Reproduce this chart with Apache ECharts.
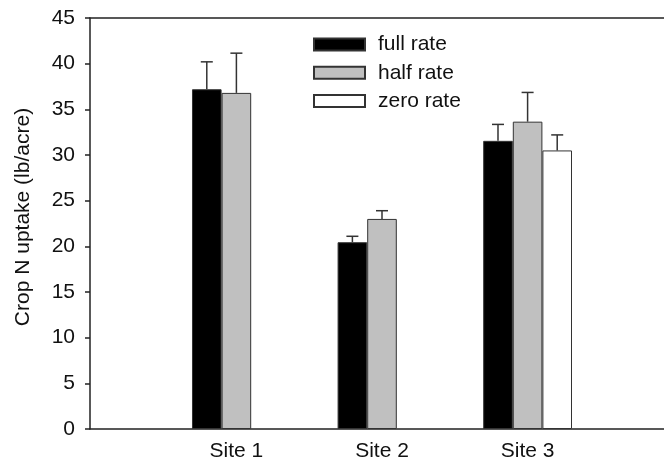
<!DOCTYPE html>
<html><head><meta charset="utf-8">
<script src="https://cdn.jsdelivr.net/npm/echarts@6/dist/echarts.min.js"></script>
<style>html,body{margin:0;padding:0;background:#fff}#c{width:664px;height:468px}</style>
</head><body><div id="c"></div>
<script>
const sites = ['Site 1', 'Site 2', 'Site 3'];
const seriesNames = ['full rate', 'half rate', 'zero rate'];
const fullRate = [37.2, 20.45, 31.55];
const halfRate = [36.8, 23.0, 33.65];
const zeroRate = [null, null, 30.5];
const fullErr = [3.0, 0.65, 1.8];
const halfErr = [4.35, 0.9, 3.2];
const zeroErr = [null, null, 1.7];
const yTicks = [0, 5, 10, 15, 20, 25, 30, 35, 40, 45];

const FONT = 'Liberation Sans, Arial, sans-serif';
const FS = 21;
const catGap = 0.39;
const values = [fullRate, halfRate, zeroRate];
const errs = [fullErr, halfErr, zeroErr];
const colors = ['#000000', '#c0c0c0', '#ffffff'];

const errData = [];
for (let s = 0; s < 3; s++) {
  for (let i = 0; i < sites.length; i++) {
    if (values[s][i] != null && errs[s][i] != null) {
      errData.push([i, values[s][i], values[s][i] + errs[s][i], s]);
    }
  }
}

const chart = echarts.init(document.getElementById('c'), null, {renderer: 'canvas'});
const axisLineStyle = {color: '#222', width: 1.5};
chart.setOption({
  animation: false,
  textStyle: {fontFamily: FONT},
  grid: [
    {left: 90, right: 0, top: 18, bottom: 39},
    {left: 163.6, right: 63.6, top: 18, bottom: 39}
  ],
  legend: {
    data: seriesNames,
    orient: 'vertical',
    left: 313, top: 34, padding: 0,
    icon: 'rect',
    itemWidth: 51, itemHeight: 12, itemGap: 7.3,
    textStyle: {fontSize: FS, color: '#111', fontFamily: FONT, padding: [0, 0, 0, 8]},
    selectedMode: false
  },
  xAxis: [
    {gridIndex: 0, type: 'value', min: 0, max: 1, position: 'bottom',
     axisLine: {show: true, lineStyle: axisLineStyle}, axisTick: {show: false},
     axisLabel: {show: false}, splitLine: {show: false}},
    {gridIndex: 0, type: 'value', min: 0, max: 1, position: 'top',
     axisLine: {show: true, lineStyle: axisLineStyle}, axisTick: {show: false},
     axisLabel: {show: false}, splitLine: {show: false}},
    {gridIndex: 1, type: 'category', data: sites,
     axisLine: {show: false}, axisTick: {show: false},
     axisLabel: {fontSize: FS, color: '#111', margin: 12, fontFamily: FONT}}
  ],
  yAxis: [
    {gridIndex: 0, type: 'value', min: 0, max: 45, interval: 5,
     name: 'Crop N uptake (lb/acre)', nameLocation: 'middle', nameGap: 56,
     nameTextStyle: {fontSize: FS, color: '#111', fontFamily: FONT, padding: [0, 0, 0, 13]},
     axisLine: {show: true, lineStyle: axisLineStyle},
     axisTick: {show: true, length: 5, lineStyle: axisLineStyle},
     axisLabel: {fontSize: FS, color: '#111', margin: 15, fontFamily: FONT},
     splitLine: {show: false}},
    {gridIndex: 1, type: 'value', min: 0, max: 45, interval: 5, show: false}
  ],
  series: [
    ...seriesNames.map((n, s) => ({
      name: n, type: 'bar', xAxisIndex: 2, yAxisIndex: 1,
      data: values[s], barGap: '0%', barCategoryGap: (catGap * 100) + '%',
      itemStyle: {color: colors[s], borderColor: '#333', borderWidth: 1}
    })),
    {
      type: 'custom', xAxisIndex: 2, yAxisIndex: 1, z: 5, data: errData,
      renderItem: function (params, api) {
        const band = api.size([1, 0])[0];
        const bw = band * (1 - catGap) / 3;
        const base = api.coord([api.value(0), api.value(1)]);
        const top = api.coord([api.value(0), api.value(2)]);
        const x = base[0] + (api.value(3) - 1) * bw;
        const half = 6;
        const st = {stroke: '#333', lineWidth: 1.5};
        return {type: 'group', children: [
          {type: 'line', shape: {x1: x, y1: base[1], x2: x, y2: top[1]}, style: st},
          {type: 'line', shape: {x1: x - half, y1: top[1], x2: x + half, y2: top[1]}, style: st}
        ]};
      }
    }
  ]
});
</script></body></html>
